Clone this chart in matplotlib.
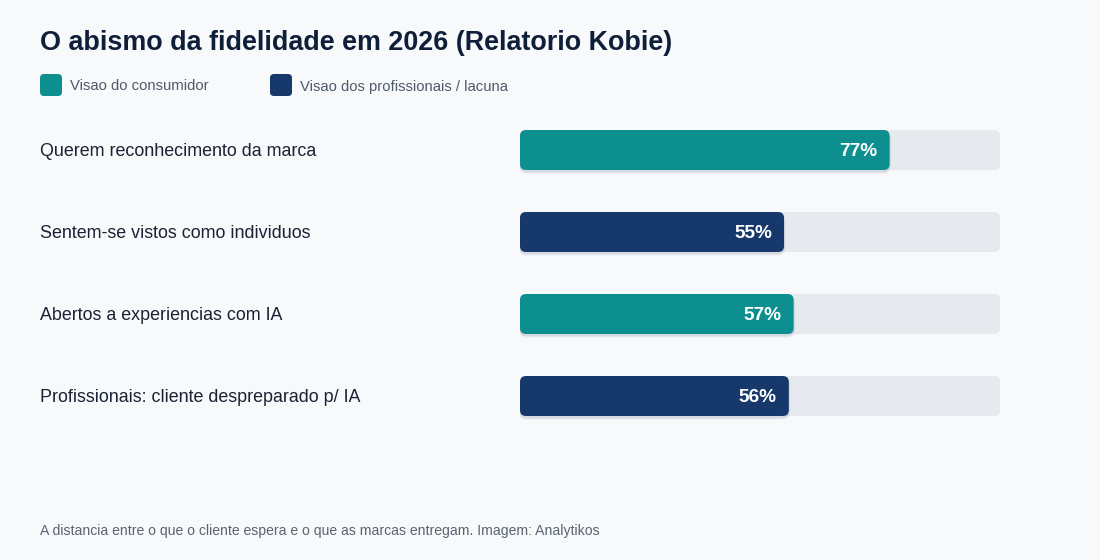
import matplotlib
matplotlib.use("Agg")
import matplotlib.pyplot as plt
from matplotlib.patches import FancyBboxPatch

plt.rcParams['font.family'] = ['Liberation Sans', 'DejaVu Sans']

title = "O abismo da fidelidade em 2026 (Relatorio Kobie)"
categories = [
    "Querem reconhecimento da marca",
    "Sentem-se vistos como individuos",
    "Abertos a experiencias com IA",
    "Profissionais: cliente despreparado p/ IA",
]
values = [77, 55, 57, 56]
series_idx = [0, 1, 0, 1]
series_names = ["Visao do consumidor", "Visao dos profissionais / lacuna"]
footer = "A distancia entre o que o cliente espera e o que as marcas entregam. Imagem: Analytikos"

BG = "#f7f9fb"
COLORS = ["#0e8f8f", "#17386a"]
TRACK = "#e6eaef"
TITLE_C = "#0f1f3a"
LABEL_C = "#1a2233"
LEG_C = "#4f5a6a"
FOOT_C = "#5a6472"

W, H = 1100, 560
fig = plt.figure(figsize=(W / 100, H / 100), dpi=100, facecolor=BG)

# bar axes: x 520..1000 px, rows centred at 150, 232, 314, 396 px
top_px, bot_px = 109, 437
ax = fig.add_axes([520 / W, (H - bot_px) / H, 480 / W, (bot_px - top_px) / H])
ax.set_xlim(0, 100)
ax.set_ylim(len(categories) - 0.5, -0.5)
ax.axis("off")
ax.patch.set_alpha(0)

px_x = 100 / 480          # x units per px
px_y = 1 / 82             # y units per px
aspect = px_y / px_x
bar_h = 40 * px_y
rad = 6 * px_x

for i, (cat, v, s) in enumerate(zip(categories, values, series_idx)):
    # track
    ax.add_patch(FancyBboxPatch((0, i - bar_h / 2), 100, bar_h,
                                boxstyle=f"round,pad=0,rounding_size={rad}",
                                mutation_aspect=aspect, fc=TRACK, ec="none", zorder=1))
    # shadow
    for k, a in [(3, 0.04), (2, 0.05), (1, 0.06)]:
        ax.add_patch(FancyBboxPatch((0 - k * px_x * 0.5, i - bar_h / 2 + 1 * px_y), v + k * px_x, bar_h + k * px_y,
                                    boxstyle=f"round,pad=0,rounding_size={rad + k * px_x}",
                                    mutation_aspect=aspect, fc="#1a2a4a", ec="none", alpha=a, zorder=2))
    # bar
    ax.add_patch(FancyBboxPatch((0, i - bar_h / 2), v, bar_h,
                                boxstyle=f"round,pad=0,rounding_size={rad}",
                                mutation_aspect=aspect, fc=COLORS[s], ec="none", zorder=3))
    ax.text(v - 12 * px_x, i + 1.5 * px_y, f"{v}%", ha="right", va="center", color="white",
            fontsize=13.7, fontweight="bold", zorder=4)
    fig.text(40 / W, 1 - (151.5 + 82 * i) / H, cat, ha="left", va="center",
             color=LABEL_C, fontsize=12.9)

fig.text(40 / W, 1 - 43 / H, title, ha="left", va="center", color=TITLE_C,
         fontsize=19.4, fontweight="bold")

# legend
lax = fig.add_axes([0, 0, 1, 1])
lax.set_xlim(0, W)
lax.set_ylim(H, 0)
lax.axis("off")
lax.patch.set_alpha(0)
for j, (name, x0) in enumerate(zip(series_names, [40, 270])):
    lax.add_patch(FancyBboxPatch((x0, 74), 22, 22, boxstyle="round,pad=0,rounding_size=4",
                                 fc=COLORS[j], ec="none"))
    lax.text(x0 + 30, 86.5, name, ha="left", va="center", color=LEG_C, fontsize=10.7)

fig.text(40 / W, 1 - 531.5 / H, footer, ha="left", va="center", color=FOOT_C, fontsize=10.1)

fig.savefig("out.png", dpi=100, facecolor=BG)
